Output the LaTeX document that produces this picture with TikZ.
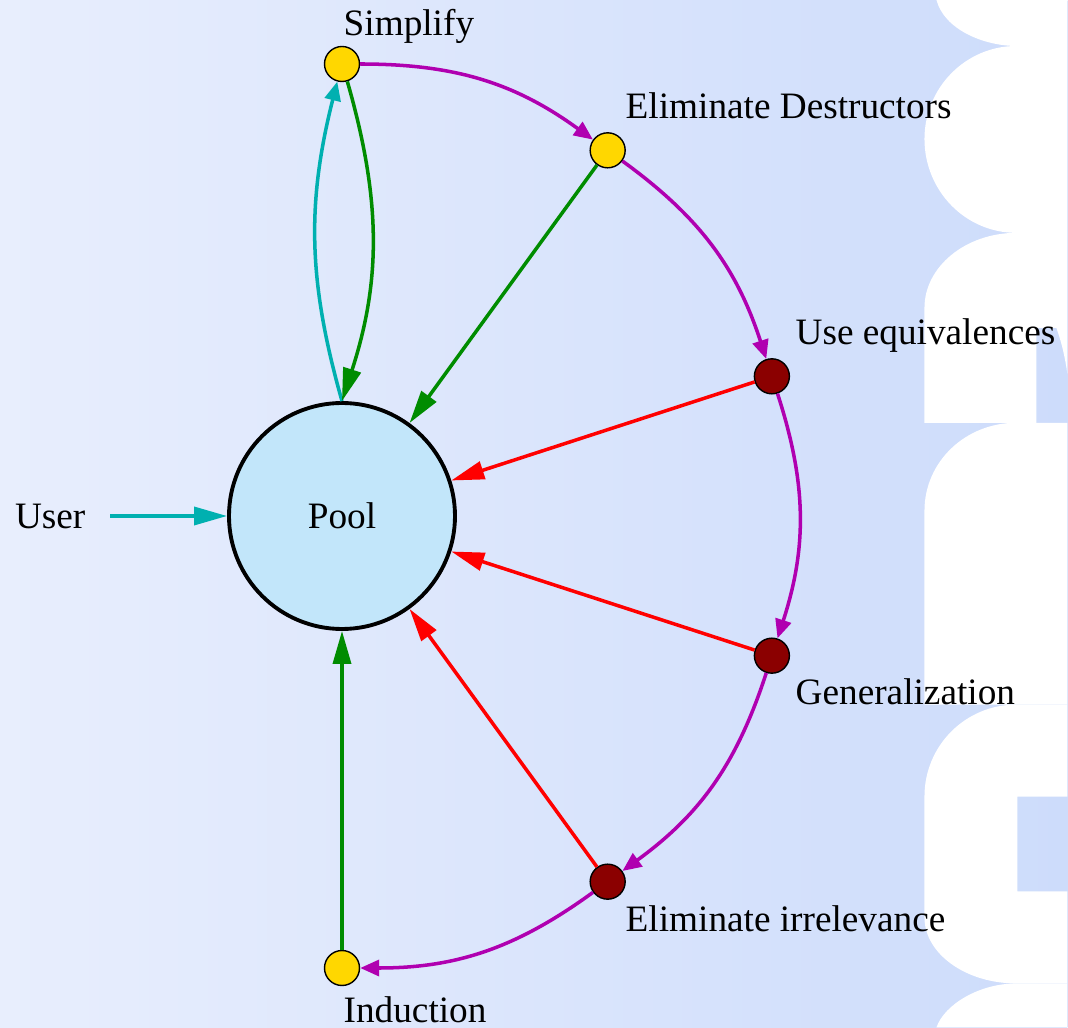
\documentclass[tikz,border=0pt]{standalone}
\usepackage{fontspec}
\setmainfont{Liberation Serif}
\usepackage{tikz}
\usetikzlibrary{positioning,arrows.meta}
\definecolor{bgleft}{RGB}{232,238,253}
\definecolor{bgright}{RGB}{205,220,251}
\definecolor{poolblue}{RGB}{194,230,250}
\definecolor{gold}{RGB}{255,215,0}
\definecolor{darkred}{RGB}{139,0,0}
\definecolor{teal}{RGB}{0,176,176}
\definecolor{leafgreen}{RGB}{0,140,0}
\definecolor{purple}{RGB}{176,0,176}
\tikzstyle{pool}=[circle,draw,line width=1.1pt,fill=poolblue,minimum size=2.26cm,inner sep=0pt]
\tikzstyle{goal}=[circle,draw,line width=0.4pt,fill=gold,minimum size=0.35cm,inner sep=0pt]
\tikzstyle{stop}=[circle,draw,line width=0.4pt,fill=darkred,minimum size=0.35cm,inner sep=0pt]
\tikzstyle{txt}=[font=\fontsize{10.6}{12}\selectfont,inner sep=0pt]

\begin{document}
\begin{tikzpicture}
\tikzstyle{big}=[line width=1pt,-{Triangle[length=0.33cm,width=0.18cm]}]
\tikzstyle{small}=[line width=1pt,-{Triangle[length=0.19cm,width=0.16cm]}]
\useasboundingbox (-3.42,-5.12) rectangle (7.26,5.16);

% background with the white bands on the right
\begin{scope}[shift={(-3.42,5.16)},x=0.01cm,y=-0.01cm]
\shade[left color=bgleft,right color=bgright] (0,0) rectangle (1068,1028);
\fill[white] (937,0) .. controls (945,30) and (985,46) .. (1017,46) -- (1068,46) -- (1068,0) -- cycle;
\fill[white] (1017,46) .. controls (966,46) and (925,88) .. (925,139) .. controls (925,191) and (966,233) .. (1017,233) -- (1068,233) -- (1068,46) -- cycle;
\fill[white] (1017,233) .. controls (966,233) and (925,267) .. (925,308) -- (925,423) -- (1037,423) -- (1037,328) -- (1057,328) .. controls (1063,345) and (1066,360) .. (1068,374) -- (1068,233) -- cycle;
\fill[white] (1017,423) .. controls (966,423) and (925,462) .. (925,511) -- (925,705) -- (1068,705) -- (1068,423) -- cycle;
\fill[white] (1017,705) .. controls (966,705) and (925,746) .. (925,797) -- (925,918) .. controls (925,954) and (966,984) .. (1017,984) -- (1068,984) -- (1068,892) -- (1018,892) -- (1018,797) -- (1068,797) -- (1068,705) -- cycle;
\fill[white] (1017,984) .. controls (980,984) and (945,1005) .. (937,1028) -- (1068,1028) -- (1068,984) -- cycle;
\end{scope}

\node (P) [pool,txt] at (0,0) {Pool};
\node (U) [txt,left=1.41cm of P] {User};

% processes round the pool
\node (S) [goal] at (90:4.52) {};
\node (D) [goal] at (54:4.52) {};
\node (E) [stop] at (18:4.52) {};
\node (G) [stop] at (-18:4.52) {};
\node (I) [stop] at (-54:4.52) {};
\node (N) [goal] at (-90:4.52) {};

\node (s) [txt,anchor=base west] at (0.01,4.80) {Simplify};
\node (d) [txt,anchor=base west] at (2.83,3.97) {Eliminate Destructors};
\node (e) [txt,anchor=base west] at (4.53,1.71) {Use equivalences};
\node (g) [txt,anchor=base west] at (4.53,-1.89) {Generalization};
\node (i) [txt,anchor=base west] at (2.83,-4.15) {Eliminate irrelevance};
\node (n) [txt,anchor=base west] at (0.01,-5.06) {Induction};

\draw[big,teal,shorten <=0.24cm] (U) -- (P);
\draw[small,teal] (P.north) to[bend left=15] (S);
\draw[big,leafgreen] (S) to[bend left=17] (P.north);

\draw[small,purple] (S) to[bend left=18] (D);
\draw[small,purple] (D) to[bend left=18] (E);
\draw[small,purple] (E) to[bend left=18] (G);
\draw[small,purple] (G) to[bend left=18] (I);
\draw[small,purple] (I) to[bend left=18] (N);

\draw[big,leafgreen] (D) -- (P);
\draw[big,red] (E) -- (P);
\draw[big,red] (G) -- (P);
\draw[big,red] (I) -- (P);
\draw[big,leafgreen] (N) -- (P);
\end{tikzpicture}
\end{document}
